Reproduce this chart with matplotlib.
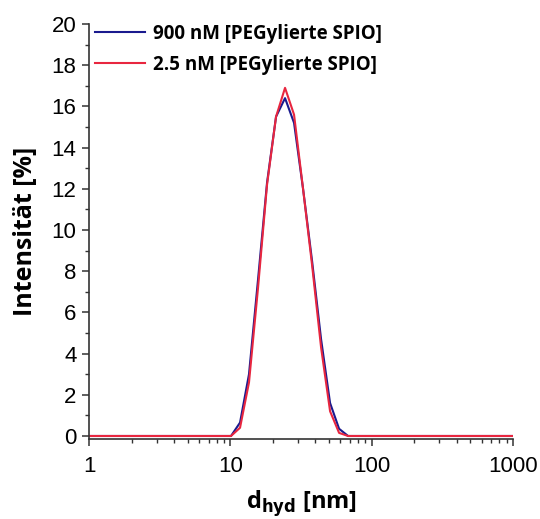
import numpy as np
import matplotlib
matplotlib.use("Agg")
import matplotlib.pyplot as plt
from matplotlib.ticker import MultipleLocator, LogLocator, NullFormatter, FixedLocator, FixedFormatter

# ── Data (DLS size bins, intensity %) ─────────────────────────────────────────
size_nm = [0.9, 10.1, 11.7, 13.54, 15.69, 18.17, 21.04, 24.36, 28.21,
           32.67, 37.84, 43.82, 50.75, 58.77, 68.06, 78.82, 1100]
int_900nM = [0, 0, 0.65, 3.0, 7.6, 12.3, 15.5, 16.4, 15.2,
             12.0, 8.5, 4.7, 1.6, 0.35, 0, 0, 0]
int_2p5nM = [0, 0, 0.4, 2.6, 7.2, 12.2, 15.5, 16.9, 15.6,
             12.0, 8.3, 4.3, 1.2, 0.15, 0, 0, 0]

labels = ["900 nM [PEGylierte SPIO]", "2.5 nM [PEGylierte SPIO]"]
COLORS = ["#1a1a8e", "#e8263f"]

xticks = [1, 10, 100, 1000]
xticklabels = ["1", "10", "100", "1000"]

LABEL_FONT = "Open Sans"
TICK_FONT = "Liberation Sans"

fig = plt.figure(figsize=(5.4, 5.19), dpi=100)
ax = fig.add_axes([0.165, 0.1536, 0.785, 0.8002])

ax.plot(size_nm, int_900nM, color=COLORS[0], lw=1.5, label=labels[0])
ax.plot(size_nm, int_2p5nM, color=COLORS[1], lw=1.5, label=labels[1])

ax.set_xscale("log")
ax.set_xlim(1, 1000)
ax.set_ylim(-0.16, 20)

ax.xaxis.set_major_locator(FixedLocator(xticks))
ax.xaxis.set_major_formatter(FixedFormatter(xticklabels))
ax.xaxis.set_minor_locator(LogLocator(base=10, subs=np.arange(2, 10)))
ax.xaxis.set_minor_formatter(NullFormatter())
ax.yaxis.set_major_locator(MultipleLocator(2))
ax.yaxis.set_minor_locator(MultipleLocator(1))

for s in ["top", "right"]:
    ax.spines[s].set_visible(False)
for s in ["left", "bottom"]:
    ax.spines[s].set_linewidth(1.2)
    ax.spines[s].set_color("#333333")

ax.tick_params(which="major", direction="out", length=5, width=1.1,
               color="#333333", labelsize=16, pad=4)
ax.tick_params(which="minor", direction="out", length=3, width=1.0,
               color="#333333")
for t in ax.get_xticklabels() + ax.get_yticklabels():
    t.set_family(TICK_FONT)
ax.tick_params(axis="x", which="major", pad=7)

ax.set_ylabel("Intensität [%]", fontsize=18, fontweight="bold",
              family=LABEL_FONT, labelpad=10)
ax.set_xlabel(r"d$_{\mathbf{hyd}}$ [nm]", fontsize=17, fontweight="bold",
              family=LABEL_FONT, labelpad=8)

leg = ax.legend(loc="upper left", frameon=False, handlelength=2.67,
                handletextpad=0.43, labelspacing=0.6, borderaxespad=0,
                bbox_to_anchor=(-0.004, 1.019),
                prop={"family": LABEL_FONT, "weight": "bold", "size": 13.5})

fig.savefig("out.png", dpi=100)
